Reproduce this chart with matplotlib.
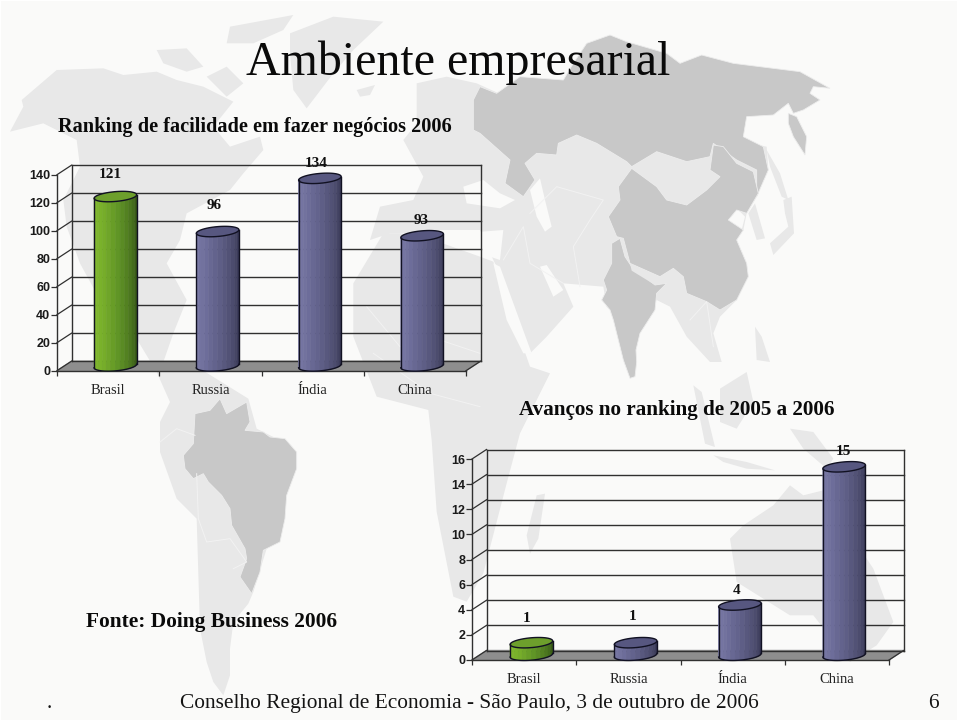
import matplotlib
matplotlib.use("Agg")
import matplotlib.pyplot as plt
import numpy as np

# chart data
categories = ["Brasil", "Russia", "Índia", "China"]
ranking_2006 = [121, 96, 134, 93]
ranking_ticks = [0, 20, 40, 60, 80, 100, 120, 140]
avancos = [1, 1, 4, 15]
avancos_ticks = [0, 2, 4, 6, 8, 10, 12, 14, 16]

title = "Ambiente empresarial"
ranking_title = "Ranking de facilidade em fazer negócios 2006"
avancos_title = "Avanços no ranking de 2005 a 2006"
fonte = "Fonte: Doing Business 2006"
rodape = "Conselho Regional de Economia - São Paulo, 3 de outubro de 2006"

BG = "#fafaf9"
LIGHT = "#e8e8e8"
DARK = "#c8c8c8"

# background map, traced by hand (offset x, offset y, points in 3x zoom pixels)
LIGHT_SHAPES = [
    # north + central america
    (0, 0, [(30, 395), (70, 320), (65, 300), (170, 210), (310, 205), (370, 225), (470, 215), (530, 240), (610, 260),
            (700, 305), (640, 380), (690, 440), (780, 410), (790, 450), (730, 520), (690, 570), (560, 640), (540, 720),
            (500, 790), (560, 900), (520, 1000), (490, 1086), (470, 1116), (400, 1000), (300, 900), (240, 790),
            (200, 680), (190, 600), (240, 500), (230, 420), (130, 370)]),
    # arctic islands
    (0, 0, [(470, 150), (560, 145), (610, 200), (560, 215), (490, 190)]),
    (0, 0, [(690, 80), (880, 45), (850, 90), (760, 130), (680, 130)]),
    (0, 0, [(620, 230), (680, 200), (730, 250), (680, 290)]),
    # greenland
    (0, 0, [(870, 100), (1000, 50), (1150, 65), (1060, 150), (1000, 220), (920, 325), (880, 270), (870, 160)]),
    # iceland
    (0, 0, [(1070, 270), (1125, 255), (1110, 285), (1080, 290)]),
    # south america
    (0, 362, [(470, 30), (600, 20), (745, 110), (770, 200), (850, 240), (800, 560), (760, 690), (745, 725), (700, 780),
              (690, 860), (690, 940), (670, 1000), (640, 960), (620, 900), (600, 800), (590, 470), (530, 410),
              (480, 270), (480, 180), (510, 120)]),
    # africa
    (0, 140, [(1150, 280), (1200, 280), (1300, 300), (1440, 350), (1480, 365), (1590, 680), (1650, 700), (1560, 880),
              (1520, 1030), (1450, 1300), (1400, 1385), (1360, 1370), (1310, 1115), (1295, 900), (1285, 810),
              (1130, 770), (1060, 590), (1060, 430)]),
    # madagascar
    (480, 362, [(170, 400), (195, 395), (175, 530), (150, 575), (140, 520)]),
    # europe + middle east + asia
    (480, 0, [(-230, 420), (-190, 370), (-190, 250), (-100, 230), (-10, 250), (100, 300), (300, 330), (860, 440),
              (865, 510), (830, 590), (800, 640), (790, 690), (770, 720), (800, 790), (805, 830), (770, 900),
              (720, 950), (700, 1000), (725, 1086), (690, 1086), (620, 1010), (570, 920), (530, 900), (470, 1000),
              (380, 920), (370, 860), (250, 850), (280, 920), (200, 1010), (150, 1060), (100, 960), (50, 800),
              (40, 780), (0, 690), (-130, 690), (-170, 700), (-270, 700), (-330, 720), (-300, 620), (-200, 600),
              (-170, 530)]),
    # japan, korea, sakhalin
    (480, 0, [(910, 600), (935, 590), (942, 700), (880, 765), (870, 730), (925, 680), (915, 640)]),
    (480, 0, [(805, 640), (825, 610), (855, 715), (830, 720)]),
    (480, 0, [(860, 450), (900, 520), (925, 600), (905, 590), (870, 500)]),
    # indonesia, philippines
    (480, 362, [(640, 70), (665, 90), (705, 255), (675, 245)]),
    (480, 362, [(700, 280), (800, 300), (885, 325), (800, 320), (730, 300)]),
    (480, 362, [(720, 80), (800, 30), (820, 120), (770, 200), (720, 180)]),
    (480, 362, [(930, 200), (1000, 210), (1060, 290), (1040, 320), (970, 260)]),
    (480, 0, [(825, 980), (845, 1010), (870, 1086), (830, 1080)]),
    # australia
    (480, 362, [(750, 530), (790, 490), (880, 430), (930, 370), (970, 400), (1030, 385), (1100, 500), (1180, 620),
                (1240, 780), (1190, 850), (1110, 900), (1000, 760), (930, 760), (770, 660)]),
]

# seas and lakes cut out of the light shapes
SEA_SHAPES = [
    (480, 0, [(-50, 560), (10, 540), (60, 580), (105, 600), (60, 625), (-40, 610)]),  # black sea
    (480, 0, [(150, 570), (180, 535), (195, 600), (215, 680), (195, 695), (170, 650)]),  # caspian
    (480, 0, [(40, 790), (60, 800), (155, 1060), (130, 1060), (80, 960)]),  # red sea
    (480, 0, [(180, 800), (200, 795), (250, 870), (220, 890)]),  # persian gulf
    (480, 0, [(-60, 700), (70, 690), (60, 780), (0, 760)]),  # east mediterranean
    (480, 0, [(745, 660), (770, 625), (795, 650), (785, 690)]),  # bohai
]

DARK_SHAPES = [
    # russia
    (480, 0, [(320, 130), (390, 105), (440, 125), (560, 160), (600, 190), (665, 165), (760, 190), (880, 205),
              (960, 215), (1050, 265), (1000, 260), (990, 280), (1020, 300), (970, 330), (940, 340), (925, 310),
              (880, 345), (800, 350), (790, 410), (850, 440), (865, 510), (830, 590), (830, 510), (770, 480),
              (700, 430), (690, 470), (620, 485), (530, 455), (455, 500), (440, 485), (350, 430), (290, 405),
              (235, 430), (230, 465), (170, 460), (135, 490), (165, 540), (130, 590), (75, 550), (90, 480),
              (0, 400), (-20, 390), (-20, 300), (0, 260), (50, 280), (120, 230), (250, 240), (280, 190)]),
    (480, 0, [(925, 340), (950, 350), (980, 410), (975, 465), (940, 410), (925, 370)]),  # kamchatka
    # china
    (480, 0, [(455, 505), (530, 560), (560, 600), (620, 615), (680, 570), (720, 530), (690, 510), (700, 435),
              (730, 440), (770, 490), (820, 515), (835, 580), (800, 640), (770, 630), (745, 660), (790, 690),
              (770, 720), (800, 790), (805, 830), (770, 900), (720, 930), (680, 905), (620, 880), (610, 830),
              (580, 805), (540, 830), (450, 790), (430, 715), (410, 710), (385, 650), (420, 600), (415, 560)]),
    # india
    (480, 0, [(395, 730), (420, 715), (435, 770), (455, 800), (525, 855), (560, 850), (530, 880), (525, 930),
              (480, 1000), (468, 1050), (470, 1086), (465, 1130), (450, 1135), (430, 1080), (400, 960), (390, 930),
              (365, 900), (380, 870), (370, 840), (395, 790)]),
    # brazil
    (0, 362, [(660, 110), (680, 155), (740, 120), (750, 180), (735, 205), (790, 210), (810, 225), (855, 230),
              (890, 270), (890, 320), (860, 400), (855, 470), (840, 540), (790, 565), (780, 630), (755, 695),
              (720, 645), (740, 590), (735, 560), (695, 490), (690, 440), (665, 400), (625, 360), (610, 335),
              (580, 350), (555, 320), (550, 280), (580, 245), (585, 155), (630, 145)]),
]

# nepal sits between the dark shapes
TOP_LIGHT_SHAPES = [(480, 0, [(450, 790), (525, 830), (525, 855), (455, 812)])]

# thin pale country borders
BORDERS = [
    (0, 362, [(590, 335), (595, 470), (620, 540), (690, 530), (740, 600), (700, 620)]),
    (0, 362, [(480, 240), (530, 200), (585, 220)]),
    (480, 0, [(150, 640), (230, 560), (370, 600), (330, 660), (280, 740), (300, 860)]),
    (480, 0, [(70, 780), (130, 680), (150, 790), (250, 850)]),
    (480, 0, [(630, 960), (680, 905), (700, 1040)]),
    (0, 140, [(1100, 500), (1200, 620), (1290, 590), (1440, 640)]),
    (0, 140, [(1120, 640), (1290, 760), (1440, 800)]),
]

PURPLE = [(0.0, "#7e7eaa"), (0.3, "#6f6f9c"), (0.55, "#5d5d85"), (0.8, "#484868"), (1.0, "#2f2f4c")]
GREEN = [(0.0, "#86bf2f"), (0.3, "#78af2a"), (0.55, "#5f9326"), (0.8, "#47701d"), (1.0, "#2f4d12")]
PURPLE_TOP = "#575780"
GREEN_TOP = "#6d9f2c"


def to_rgb(stops, f):
    xs = [s[0] for s in stops]
    cols = np.array([matplotlib.colors.to_rgb(s[1]) for s in stops])
    return [np.interp(f, xs, cols[:, i]) for i in range(3)]


def cylinder(ax, x, value, stops, top_col, dx, dy, half_w):
    cx = x + dx / 2
    a = half_w
    b = dx * 0.5
    c = dy * 0.55
    y0 = dy / 2
    y1 = value + dy / 2
    t0 = np.arctan2(b, a)
    t = np.linspace(t0 - np.pi, t0, 29)
    xs = cx + a * np.cos(t) + b * np.sin(t)
    low = c * np.sin(t)
    # shaded strips, stepped like the original
    n = 14
    edges = np.linspace(0, len(t) - 1, n + 1).astype(int)
    x_l, x_r = xs.min(), xs.max()
    for k in range(n):
        i, j = edges[k], edges[k + 1]
        col = to_rgb(stops, (k + 0.5) / n)
        px = np.r_[xs[i:j + 1], xs[i:j + 1][::-1]]
        py = np.r_[y0 + low[i:j + 1], (y1 + low[i:j + 1])[::-1]]
        ax.fill(px, py, color=col, lw=0.4, clip_on=False, zorder=3)
    tt = np.linspace(0, 2 * np.pi, 80)
    ax.fill(cx + a * np.cos(tt) + b * np.sin(tt), y1 + c * np.sin(tt), fc=top_col, ec="#111122", lw=1,
            clip_on=False, zorder=4)
    ax.plot(xs, y0 + low, color="#111122", lw=1, clip_on=False, zorder=4)
    ax.plot([x_l, x_l], [y0 + low[0], y1 + low[0]], color="#111122", lw=1, clip_on=False, zorder=4)
    ax.plot([x_r, x_r], [y0 + low[-1], y1 + low[-1]], color="#111122", lw=1, clip_on=False, zorder=4)


def chart(rect_px, values, ticks, label_dx, label_dy):
    left, y0, w, h = rect_px
    ax = fig.add_axes([left / W, (H - y0) / H, w / W, h / H])
    ax.patch.set_visible(False)
    n = len(values)
    ax.set_xlim(0, n)
    ax.set_ylim(ticks[0], ticks[-1])
    dx = 14.5 * n / w
    dy = 9.5 * ticks[-1] / h
    line = "#303030"
    # walls and floor
    ax.fill([0, n, n + dx, dx], [0, 0, dy, dy], color="#8e8e8e", clip_on=False, zorder=1)
    for v in ticks:
        ax.plot([dx, n + dx], [v + dy, v + dy], color=line, lw=1, clip_on=False, zorder=2)
        ax.plot([0, dx], [v, v + dy], color=line, lw=0.9, clip_on=False, zorder=2)
    ax.plot([dx, dx], [dy, ticks[-1] + dy], color=line, lw=1, clip_on=False, zorder=2)
    ax.plot([n + dx, n + dx], [dy, ticks[-1] + dy], color=line, lw=1, clip_on=False, zorder=2)
    ax.plot([n, n + dx], [0, dy], color=line, lw=0.9, clip_on=False, zorder=2)
    for i, v in enumerate(values):
        stops, top = (GREEN, GREEN_TOP) if i == 0 else (PURPLE, PURPLE_TOP)
        cylinder(ax, i + 0.5, v, stops, top, dx, dy, 20 * n / w)
        ax.annotate(str(v), (i + 0.5, v + dy / 2), xytext=(label_dx[i] * 0.72, label_dy[i] * 0.72),
                    textcoords="offset points", ha="center", va="center", family="Liberation Serif",
                    weight="bold", fontsize=11, color="#111111", zorder=5, annotation_clip=False)
    for s in ["top", "right"]:
        ax.spines[s].set_visible(False)
    for s in ["left", "bottom"]:
        ax.spines[s].set_color(line)
        ax.spines[s].set_linewidth(1)
    ax.set_yticks(ticks)
    ax.tick_params(axis="y", length=4, width=0.9, color=line, pad=1, labelsize=9)
    for lab in ax.get_yticklabels():
        lab.set_family("Liberation Sans")
        lab.set_weight("bold")
        lab.set_color("#1a1a1a")
    ax.set_xticks(range(n + 1))
    ax.set_xticklabels([])
    ax.tick_params(axis="x", length=3.5, width=0.9, color=line)
    for i, name in enumerate(categories):
        ax.annotate(name, (i + 0.5, 0), xytext=(0, -22.8 * 0.72), textcoords="offset points", ha="center",
                    va="baseline", family="Liberation Serif", fontsize=10.5, color="#222222", annotation_clip=False)
    return ax


W, H = 960, 724
fig = plt.figure(figsize=(W / 100, H / 100), dpi=100, facecolor="white")

bg = fig.add_axes([0, 0, 1, 1])
bg.set_xlim(0, W)
bg.set_ylim(H, 0)
bg.axis("off")
bg.fill([1, 957, 957, 1], [1, 1, 720, 720], color=BG, lw=0)


def draw_shapes(shapes, col, edge="none", lw=0):
    for ox, oy, pts in shapes:
        arr = np.array(pts, dtype=float) / 3 + [ox, oy]
        bg.fill(arr[:, 0], arr[:, 1], fc=col, ec=edge, lw=lw)


draw_shapes(LIGHT_SHAPES, LIGHT)
draw_shapes(SEA_SHAPES, BG)
for ox, oy, pts in BORDERS:
    arr = np.array(pts, dtype=float) / 3 + [ox, oy]
    bg.plot(arr[:, 0], arr[:, 1], color="#f2f2f2", lw=0.7)
draw_shapes(DARK_SHAPES, DARK, edge="#ededed", lw=0.6)
draw_shapes(TOP_LIGHT_SHAPES, LIGHT)

serif = "Liberation Serif"
ink = "#0a0a0a"
bg.text(458.5, 75, title, family=serif, fontsize=34.5, ha="center", va="baseline", color=ink)
bg.text(254.5, 132, ranking_title, family=serif, weight="bold", fontsize=14.6, ha="center", va="baseline", color=ink)
bg.text(676.5, 415, avancos_title, family=serif, weight="bold", fontsize=15.2, ha="center", va="baseline", color=ink)
bg.text(211.5, 627, fonte, family=serif, weight="bold", fontsize=15.4, ha="center", va="baseline", color=ink)
bg.text(469, 708, rodape, family=serif, fontsize=15.4, ha="center", va="baseline", color="#141414")
bg.text(49, 708, ".", family=serif, fontsize=15.4, ha="center", va="baseline", color="#141414")
bg.text(933, 708, "6", family=serif, fontsize=15.4, ha="center", va="baseline", color="#141414")

chart((57, 370.7, 409, 196), ranking_2006, ranking_ticks, [2, 4, 4, 6], [22, 26, 15, 15])
chart((472, 660, 417, 201), avancos, avancos_ticks, [2, 4, 4, 7], [24, 26, 14, 15])

fig.savefig("out.png", dpi=100, facecolor="white")
